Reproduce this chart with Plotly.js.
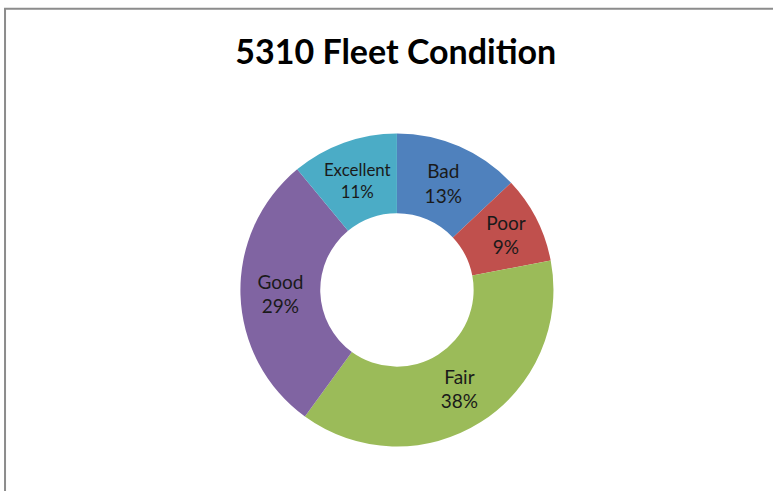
<!DOCTYPE html>
<html>
<head>
<meta charset="utf-8">
<script src="https://cdn.plot.ly/plotly-3.0.1.min.js"></script>
<style>
  html, body { margin: 0; padding: 0; background: #fff; }
  #graph { width: 773px; height: 491px; }
</style>
</head>
<body>
<div id="graph"></div>
<script>
// données du graphique
var categories = ['Bad', 'Poor', 'Fair', 'Good', 'Excellent'];
var valeurs = [13, 9, 38, 29, 11];
var couleurs = ['#4F81BD', '#C0504D', '#9BBB59', '#8064A2', '#4BACC6'];

var data = [{
  type: 'pie',
  labels: categories,
  values: valeurs,
  sort: false,
  direction: 'clockwise',
  rotation: 0,
  hole: 0.49,
  marker: { colors: couleurs, line: { width: 0 } },
  texttemplate: '%{label}<br>%{percent:.0%}',
  textposition: 'inside',
  insidetextorientation: 'horizontal',
  textfont: { family: 'Lato, "Open Sans", sans-serif', size: 19, color: '#1a1a1a' },
  domain: { x: [0.311, 0.716], y: [0.09, 0.729] },
  showlegend: false,
  hoverinfo: 'none'
}];

var layout = {
  width: 773,
  height: 491,
  margin: { l: 0, r: 0, t: 0, b: 0 },
  paper_bgcolor: '#ffffff',
  title: {
    text: '<b>5310 Fleet Condition</b>',
    font: { family: 'Lato, "Open Sans", sans-serif', size: 34, color: '#000000' },
    x: 0.512,
    xanchor: 'center',
    y: 0.893,
    yanchor: 'middle'
  },
  // cadre gris du graphique (bord gauche et haut visibles)
  shapes: [{
    type: 'rect', xref: 'paper', yref: 'paper',
    x0: 0.0065, x1: 1.05, y0: -0.05, y1: 0.982,
    line: { color: '#8c8c8c', width: 2 }
  }]
};

Plotly.newPlot('graph', data, layout, { displayModeBar: false, staticPlot: true });
</script>
</body>
</html>
